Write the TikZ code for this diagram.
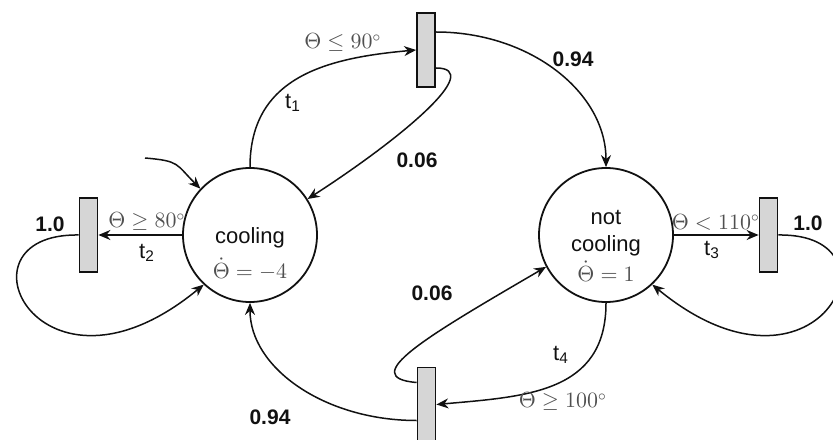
\documentclass[tikz,border=0pt]{standalone}
\usepackage{fontspec}
\setmainfont{Liberation Sans}
\usetikzlibrary{positioning,arrows.meta}
\definecolor{Ink}{HTML}{111111}
\definecolor{GuardInk}{HTML}{505050}
\definecolor{BarFill}{HTML}{D6D6D6}

\begin{document}
\begin{tikzpicture}[x=0.5pt, y=0.5pt,
  state/.style={draw=Ink, circle, line width=0.9pt, minimum size=67pt, inner sep=0pt},
  trans/.style={draw=Ink, fill=BarFill, line width=0.9pt, minimum width=9pt,
    minimum height=37pt, inner sep=0pt},
  arc/.style={draw=Ink, line width=0.75pt, -{Stealth[length=6pt,width=5pt]}},
  statetext/.style={font=\fontsize{11}{13.5}\selectfont, text=Ink, align=center, inner sep=0pt},
  rate/.style={text=GuardInk, font=\fontsize{10.5}{12}\selectfont, inner sep=0pt},
  guard/.style={text=GuardInk, font=\fontsize{10.5}{12}\selectfont, inner sep=0pt},
  tname/.style={text=Ink, font=\fontsize{11}{13}\selectfont, inner sep=0pt},
  prob/.style={text=Ink, font=\fontsize{10.5}{12}\selectfont\bfseries, inner sep=0pt},
]
\useasboundingbox (0,0) rectangle (833,439);

% places
\node[state] (cooling) at (250,204) {};
\node[statetext] (coolname) at ([yshift=-1.5pt]cooling.center) {cooling};
\node[rate] (coolrate) at ([yshift=-17pt]cooling.center) {$\dot\Theta=-4$};
\node[state] (notcool) at (606,204) {};
\node[statetext] (notname) at ([yshift=1pt]notcool.center) {not\\cooling};
\node[rate] (notrate) at ([yshift=-18pt]notcool.center) {$\dot\Theta=1$};

% transitions
\node[trans] (t1) at (426,389) {};
\node[trans] (t2) at (88.5,204) {};
\node[trans] (t3) at (768.5,204) {};
\node[trans] (t4) at (426.5,34.5) {};

% initial arc
\coordinate (start) at (145,281);
\draw[arc] (start) .. controls +(35,-3) and +(-25,25) .. (cooling.137);

% t1
\draw[arc] (cooling.north) .. controls +(0,90) and +(-90,-8) .. (t1.west);
\draw[arc] ([yshift=-9pt]t1.east) .. controls +(50,0) and +(93,60) .. (cooling.32);
\draw[arc] ([yshift=9pt]t1.east) .. controls +(94,0) and +(0,75) .. (notcool.north);
\node[guard] (g1) at (343,396) {$\Theta\leq 90^\circ$};
\node[tname] (n1) at (293,336) {t\textsubscript{1}};
\node[prob] (p1a) at (417,279) {0.06};
\node[prob] (p1b) at (573,380) {0.94};

% t2
\draw[arc] (cooling) -- (t2);
\draw[arc] (t2.west) .. controls +(-130,2) and +(-164,-135) .. (cooling.227);
\node[guard] (g2) at (147,217) {$\Theta\geq 80^\circ$};
\node[tname] (n2) at (147,186) {t\textsubscript{2}};
\node[prob] (p2) at (50,215) {1.0};

% t3
\draw[arc] (notcool) -- (t3);
\draw[arc] (t3.east) .. controls +(130,2) and +(164,-135) .. (notcool.313);
\node[guard] (g3) at (716,217) {$\Theta<110^\circ$};
\node[tname] (n3) at (712,189) {t\textsubscript{3}};
\node[prob] (p3) at (808,216) {1.0};

% t4
\draw[arc] (notcool.south) .. controls +(0,-90) and +(90,8) .. (t4.east);
\draw[arc] ([yshift=11pt]t4.west) .. controls +(-60,5) and +(-120,-70) .. (notcool.208);
\draw[arc] ([yshift=-8pt]t4.west) .. controls +(-92,0) and +(0,-65) .. (cooling.south);
\node[guard] (g4) at (563,37) {$\Theta\geq 100^\circ$};
\node[tname] (n4) at (561,84) {t\textsubscript{4}};
\node[prob] (p4a) at (432,146) {0.06};
\node[prob] (p4b) at (270,22) {0.94};
\end{tikzpicture}
\end{document}
